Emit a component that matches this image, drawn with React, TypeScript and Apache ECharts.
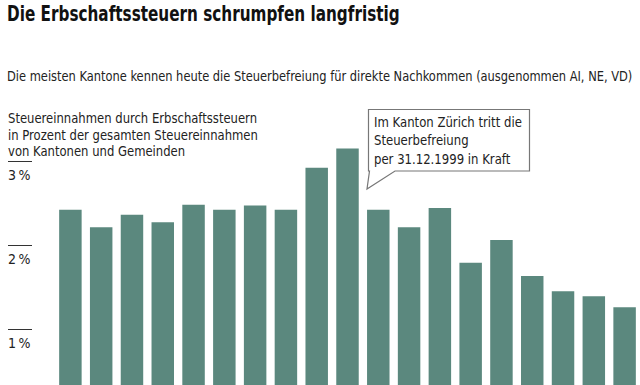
import React, { useEffect, useRef } from "react";
import * as echarts from "echarts";

const years = ["1990","1991","1992","1993","1994","1995","1996","1997","1998","1999","2000","2001","2002","2003","2004","2005","2006","2007","2008"];
const shares = [2.42, 2.21, 2.36, 2.27, 2.48, 2.42, 2.47, 2.42, 2.92, 3.15, 2.42, 2.21, 2.44, 1.79, 2.06, 1.63, 1.45, 1.39, 1.26];
const tickValues = [1, 2, 3];

const titleText = "Die Erbschaftssteuern schrumpfen langfristig";
const subtitleText = "Die meisten Kantone kennen heute die Steuerbefreiung für direkte Nachkommen (ausgenommen AI, NE, VD)";
const axisTitleLines = ["Steuereinnahmen durch Erbschaftssteuern", "in Prozent der gesamten Steuereinnahmen", "von Kantonen und Gemeinden"];
const calloutLines = ["Im Kanton Zürich tritt die", "Steuerbefreiung", "per 31.12.1999 in Kraft"];

const FONT = "'DejaVu Sans Condensed', 'Liberation Sans', sans-serif";
const BAR = "#5b887e";
const TEXT = "#222222";

function measure(text: string, font: string): number {
  const c = document.createElement("canvas").getContext("2d");
  if (!c) return text.length * 7;
  c.font = font;
  return c.measureText(text).width;
}

export default function App() {
  const ref = useRef<HTMLDivElement>(null);
  useEffect(() => {
    if (!ref.current) return;
    const chart = echarts.init(ref.current, undefined, { renderer: "svg" });

    const titleFont = `bold 22px ${FONT}`;
    const subFont = `13.5px ${FONT}`;
    const axFont = `14px ${FONT}`;
    const coFont = `14.5px ${FONT}`;
    const sTitle = 393 / measure(titleText, titleFont);
    const sSub = 626 / measure(subtitleText, subFont);
    const sAx = 249 / measure(axisTitleLines[0], axFont);
    const sCo = 148 / measure(calloutLines[0], coFont);

    const graphics: any[] = [
      { type: "text", x: 7, y: 13.5, scaleX: sTitle, style: { text: titleText, font: titleFont, fill: "#111", verticalAlign: "middle" } },
      { type: "text", x: 7, y: 76, scaleX: sSub, style: { text: subtitleText, font: subFont, fill: TEXT, verticalAlign: "middle" } },
      ...axisTitleLines.map((t, i) => ({ type: "text", x: 8, y: 118 + i * 16.5, scaleX: sAx, style: { text: t, font: axFont, fill: TEXT, verticalAlign: "middle" } })),
      {
        type: "polygon", z: 10,
        shape: { points: [[368.5, 109.5], [529.5, 109.5], [529.5, 171], [395, 171], [367, 189], [369.5, 171], [368.5, 171]] },
        style: { fill: "#fff", stroke: "#777", lineWidth: 1.2 },
      },
      ...calloutLines.map((t, i) => ({ type: "text", z: 11, x: 374, y: 121.5 + i * 18.7, scaleX: sCo, style: { text: t, font: coFont, fill: TEXT, verticalAlign: "middle" } })),
    ];
    chart.setOption({
      animation: false,
      grid: { left: 55, right: 0, top: 119, height: 294, containLabel: false, outerBoundsMode: "none" },
      xAxis: {
        type: "category", data: years,
        axisLine: { show: false }, axisTick: { show: false }, axisLabel: { show: false },
      },
      yAxis: {
        type: "value", min: 0, max: 3.5, position: "left", offset: 23,
        axisLine: { show: false }, splitLine: { show: false },
        axisTick: { show: true, length: 24, customValues: tickValues, lineStyle: { color: "#333", width: 1 } },
        axisLabel: {
          customValues: tickValues, margin: 24, align: "left", verticalAlign: "top", padding: [7, 0, 0, 0],
          formatter: (v: number) => `${v}\u2009%`, fontFamily: FONT, fontSize: 14, color: TEXT,
        },
      },
      series: [{
        type: "bar", data: shares, barCategoryGap: "27%", itemStyle: { color: BAR }, clip: false,
      }],
      graphic: graphics,
    });
    return () => chart.dispose();
  }, []);
  return <div ref={ref} style={{ width: 640, height: 385, position: "absolute", left: 0, top: 0, background: "#fff" }} />;
}
